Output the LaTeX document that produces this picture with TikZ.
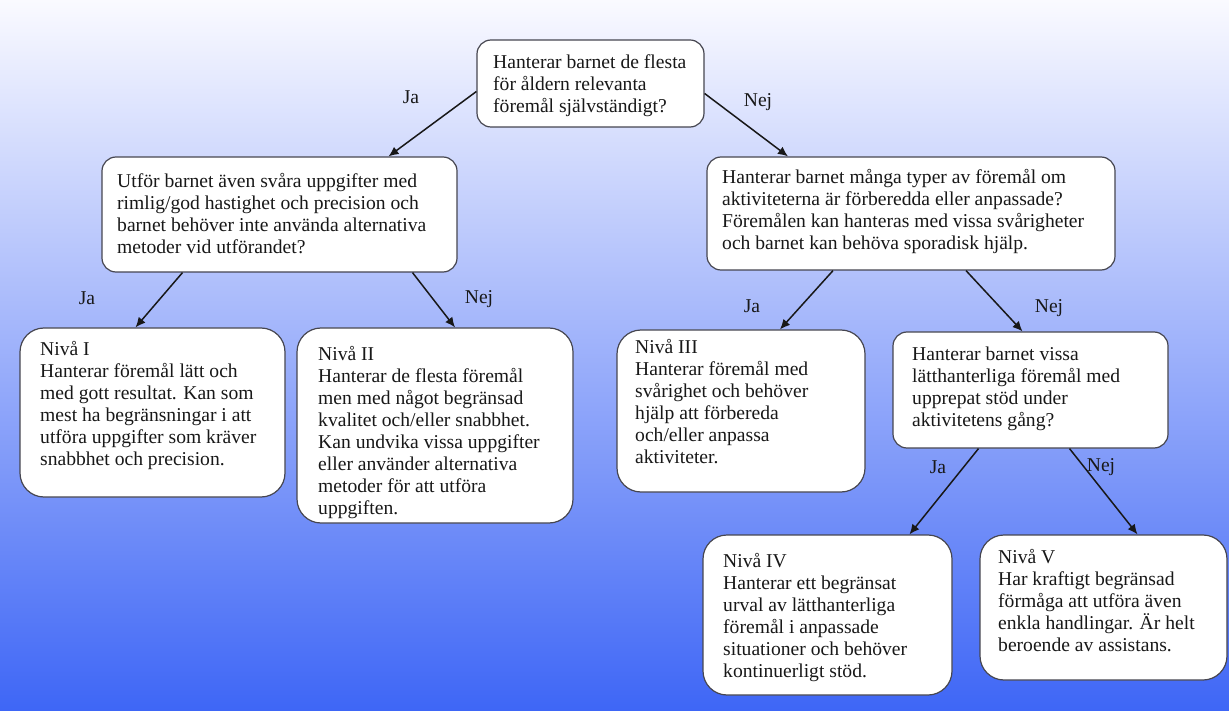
\documentclass[tikz,border=0pt]{standalone}
\usepackage{fontspec}
\setmainfont{Liberation Serif}
\usetikzlibrary{arrows.meta,calc}
\definecolor{bgtop}{RGB}{250,250,255}
\definecolor{bgmid}{RGB}{188,198,246}
\definecolor{bgbot}{RGB}{62,102,246}
\definecolor{ink}{RGB}{24,24,24}
\definecolor{edge}{RGB}{70,70,80}
\tikzset{
  qbox/.style={draw=edge, fill=white, line width=1.2pt, rounded corners=14pt, inner sep=0pt},
  lbox/.style={draw=edge, fill=white, line width=1.2pt, rounded corners=24pt, inner sep=0pt},
  txt/.style={anchor=north west, inner sep=0pt, align=left, text=ink,
    font=\fontsize{19.6}{22}\selectfont},
  lab/.style={inner sep=0pt, text=ink, font=\fontsize{19.6}{22}\selectfont},
  arr/.style={draw=ink, line width=1.5pt, -{Latex[length=10pt,width=9pt]}}
}
\begin{document}
\begin{tikzpicture}[x=1pt,y=-1pt]
\useasboundingbox (0,0) rectangle (1229,711);
\shade[top color=bgtop, middle color=bgmid, bottom color=bgbot] (0,0) rectangle (1229,711);

% boxes
\node[qbox, minimum width=227pt, minimum height=87pt] (root) at (590.5,83.5) {};
\node[qbox, minimum width=355pt, minimum height=115pt] (lq) at (279.5,214.5) {};
\node[qbox, minimum width=408pt, minimum height=113pt] (rq) at (911,213.5) {};
\node[lbox, minimum width=265pt, minimum height=169pt] (n1) at (152.5,412.5) {};
\node[lbox, minimum width=276pt, minimum height=195pt] (n2) at (435,425.5) {};
\node[lbox, minimum width=248pt, minimum height=162pt] (n3) at (741,411) {};
\node[qbox, minimum width=275pt, minimum height=116pt] (q3) at (1030.5,390) {};
\node[lbox, minimum width=249pt, minimum height=160pt] (n4) at (827.5,615) {};
\node[lbox, minimum width=247pt, minimum height=145pt] (n5) at (1103.5,607.5) {};

% texts
\node[txt] (rootT) at (493,54.5) {Hanterar barnet de flesta\\för åldern relevanta\\föremål självständigt?};
\node[txt] (lqT) at (117,173.5) {Utför barnet även svåra uppgifter med\\rimlig/god hastighet och precision och\\barnet behöver inte använda alternativa\\metoder vid utförandet?};
\node[txt] (rqT) at (722,169.5) {Hanterar barnet många typer av föremål om\\aktiviteterna är förberedda eller anpassade?\\Föremålen kan hanteras med vissa svårigheter\\och barnet kan behöva sporadisk hjälp.};
\node[txt] (n1T) at (40,341.5) {Nivå I\\Hanterar föremål lätt och\\med gott resultat. Kan som\\mest ha begränsningar i att\\utföra uppgifter som kräver\\snabbhet och precision.};
\node[txt] (n2T) at (318,346) {Nivå II\\Hanterar de flesta föremål\\men med något begränsad\\kvalitet och/eller snabbhet.\\Kan undvika vissa uppgifter\\eller använder alternativa\\metoder för att utföra\\uppgiften.};
\node[txt] (n3T) at (635,339.5) {Nivå III\\Hanterar föremål med\\svårighet och behöver\\hjälp att förbereda\\och/eller anpassa\\aktiviteter.};
\node[txt] (q3T) at (912,346.5) {Hanterar barnet vissa\\lätthanterliga föremål med\\upprepat stöd under\\aktivitetens gång?};
\node[txt] (n4T) at (723,553.5) {Nivå IV\\Hanterar ett begränsat\\urval av lätthanterliga\\föremål i anpassade\\situationer och behöver\\kontinuerligt stöd.};
\node[txt] (n5T) at (998,549.5) {Nivå V\\Har kraftigt begränsad\\förmåga att utföra även\\enkla handlingar. Är helt\\beroende av assistans.};

% connectors
\draw[arr] ($(root.west)+(0,8)$) -- ($(lq.north)+(109,0)$);
\draw[arr] ($(root.east)+(0,10)$) -- ($(rq.north)+(-123,0)$);
\draw[arr] ($(lq.south)+(-97,0)$) -- ($(n1.north)+(-17,0)$);
\draw[arr] ($(lq.south)+(133,0)$) -- ($(n2.north)+(20,0)$);
\draw[arr] ($(rq.south)+(-78,0)$) -- ($(n3.north)+(39,0)$);
\draw[arr] ($(rq.south)+(55,0)$) -- ($(q3.north)+(-8,0)$);
\draw[arr] ($(q3.south)+(-52,0)$) -- ($(n4.north)+(82,0)$);
\draw[arr] ($(q3.south)+(39,0)$) -- ($(n5.north)+(34,0)$);

% labels
\node[lab] (l1) at (411,97) {Ja};
\node[lab] (l2) at (758,102) {Nej};
\node[lab] (l3) at (87,298) {Ja};
\node[lab] (l4) at (479,299) {Nej};
\node[lab] (l5) at (752,306) {Ja};
\node[lab] (l6) at (1049,308) {Nej};
\node[lab] (l7) at (938,467) {Ja};
\node[lab] (l8) at (1101,467) {Nej};
\end{tikzpicture}
\end{document}
